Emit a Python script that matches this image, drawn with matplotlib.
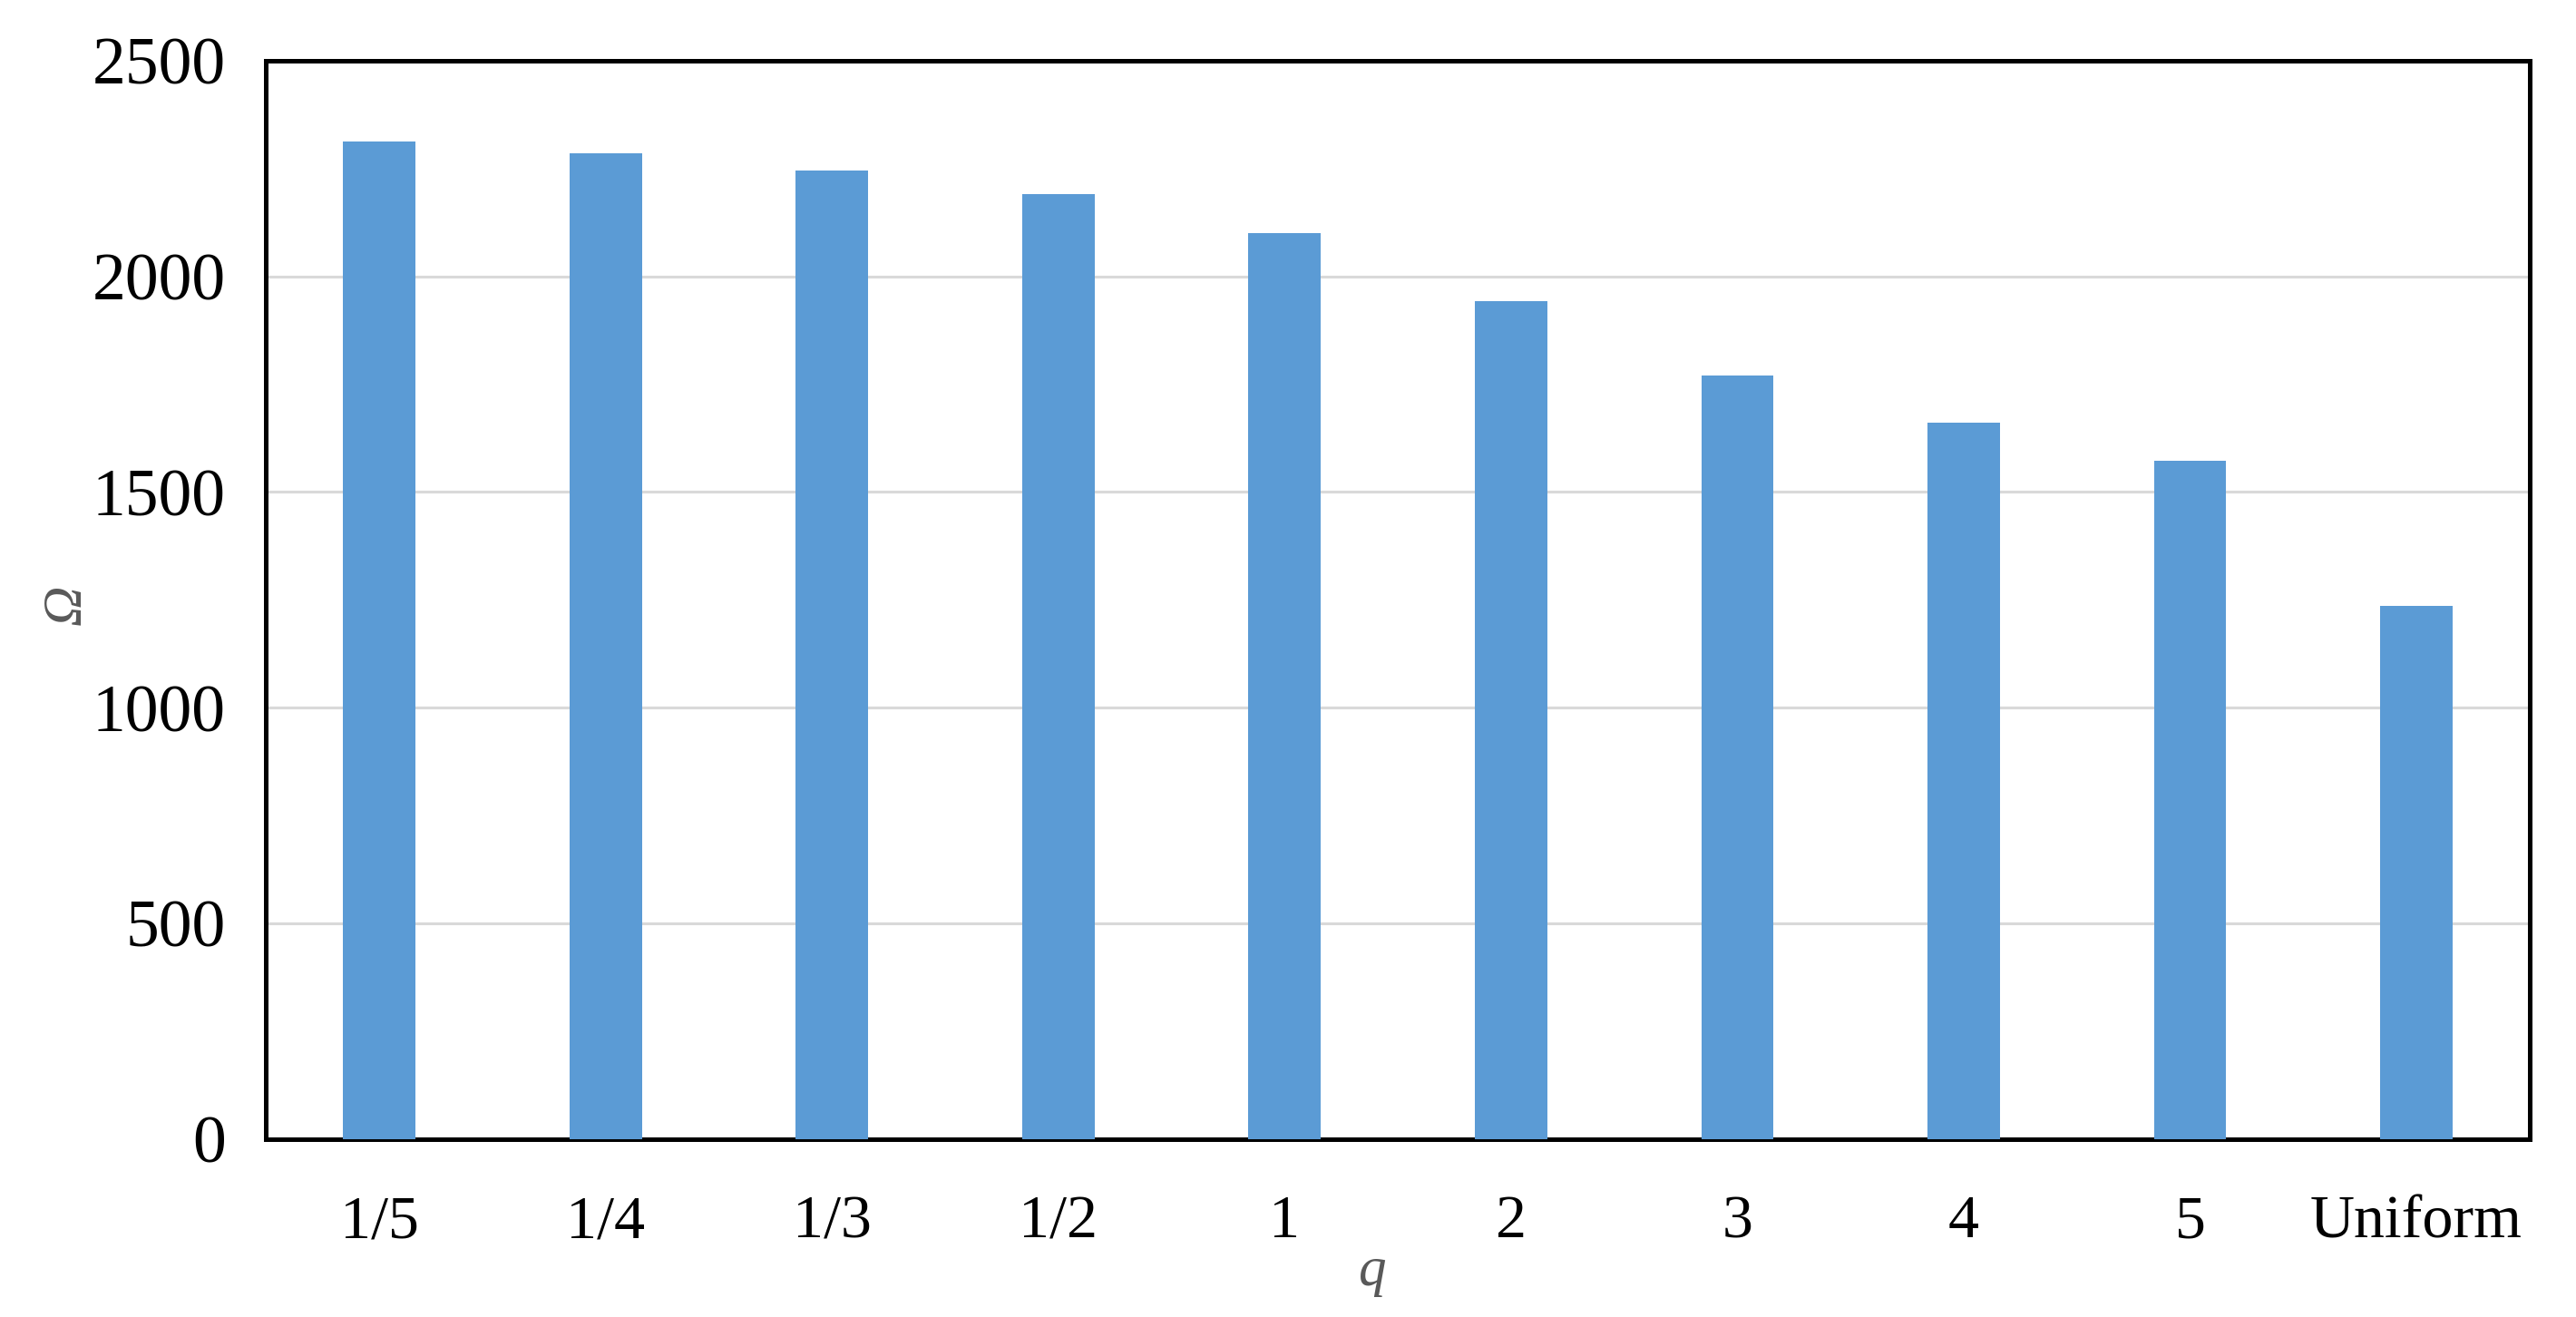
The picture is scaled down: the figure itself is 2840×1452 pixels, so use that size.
import matplotlib
matplotlib.use("Agg")
import matplotlib.pyplot as plt

categories = ["1/5", "1/4", "1/3", "1/2", "1", "2", "3", "4", "5", "Uniform"]
omega = [2313, 2286, 2245, 2190, 2100, 1942, 1771, 1661, 1572, 1236]
yticks = [0, 500, 1000, 1500, 2000, 2500]

plt.rcParams['font.family'] = ['Liberation Serif', 'DejaVu Serif']

fig = plt.figure(figsize=(14.2, 7.26), dpi=200)
ax = fig.add_axes([0.1033, 0.135, 0.8787, 0.819])

x = list(range(len(categories)))
ax.bar(x, omega, width=0.32, color="#5B9BD5", zorder=3)

ax.set_xlim(-0.5, len(categories) - 0.5)
ax.set_ylim(0, 2500)
ax.set_yticks(yticks)
ax.set_yticklabels([str(v) for v in yticks])
ax.set_xticks(x)
ax.set_xticklabels(categories)
ax.yaxis.grid(True, color="#d9d9d9", linewidth=1.1, zorder=0)
ax.set_axisbelow(True)

for s in ax.spines.values():
    s.set_color("black")
    s.set_linewidth(1.8)

ax.tick_params(axis="both", length=0, colors="black")
ax.tick_params(axis="x", pad=22, labelsize=24.5)
ax.tick_params(axis="y", pad=16, labelsize=26.5)

ax.set_ylabel("Ω", fontsize=22, style="italic", color="#595959")
ax.set_xlabel("q", fontsize=22, style="italic", color="#595959")
ax.yaxis.set_label_coords(-0.077, 0.495)
ax.xaxis.set_label_coords(0.489, -0.100)

fig.savefig("out.png", dpi=200, facecolor="white")
